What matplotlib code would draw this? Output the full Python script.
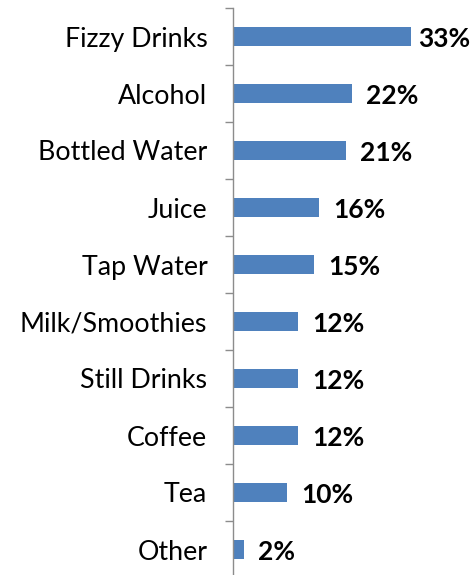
import matplotlib.pyplot as plt
import numpy as np

plt.rcParams['font.family'] = ['Lato', 'DejaVu Sans']

categories = ['Fizzy Drinks', 'Alcohol', 'Bottled Water', 'Juice', 'Tap Water',
              'Milk/Smoothies', 'Still Drinks', 'Coffee', 'Tea', 'Other']
values = [33, 22, 21, 16, 15, 12, 12, 12, 10, 2]

BAR_COLOR = '#4F81BD'
AXIS_COLOR = '#8C8C8C'

fig = plt.figure(figsize=(4.75, 5.75), dpi=100)
ax = fig.add_axes([233 / 475, -3 / 575, 242 / 475, 570 / 575])

y = np.arange(len(categories))
ax.barh(y, values, height=0.34, color=BAR_COLOR, zorder=2)
ax.set_ylim(len(categories) - 0.5, -0.5)
ax.set_xlim(0, 242 / 5.4)

# labels sit outside the bar end, but the longest one is pulled in to fit
for yi, v in zip(y, values):
    ax.text(min(v + 2.6, 34.3), yi + 0.04, '{0:d}%'.format(v), va='center', ha='left',
            fontsize=19, fontweight='bold', color='black')

ax.set_yticks(y)
ax.set_yticklabels(categories, fontsize=19.3)
ax.tick_params(axis='y', which='major', length=0, pad=18.5)
ax.set_yticks(np.arange(len(categories) + 1) - 0.5, minor=True)
ax.tick_params(axis='y', which='minor', length=6, width=1, color=AXIS_COLOR, direction='out')
ax.set_xticks([])

for side in ['top', 'right', 'bottom']:
    ax.spines[side].set_visible(False)
ax.spines['left'].set_color(AXIS_COLOR)
ax.spines['left'].set_linewidth(1)
ax.patch.set_alpha(0)

plt.savefig('out.png', dpi=100)
